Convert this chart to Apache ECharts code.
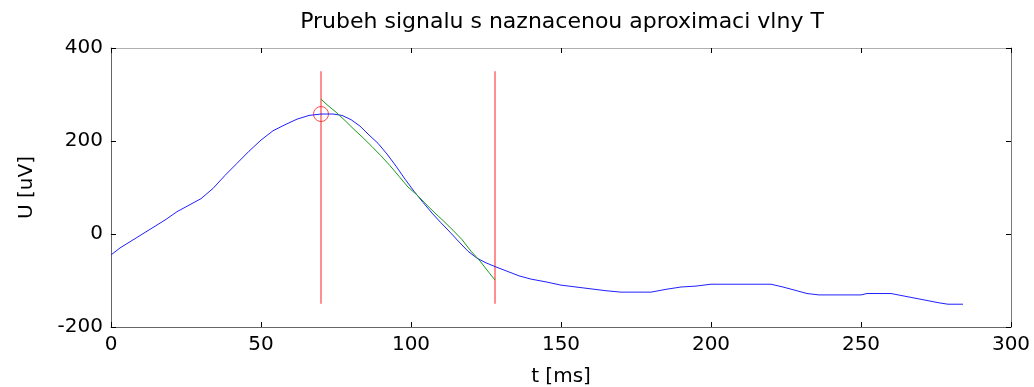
<!DOCTYPE html>
<html>
<head>
<meta charset="utf-8">
<script src="https://cdn.jsdelivr.net/npm/echarts@6/dist/echarts.min.js"></script>
<style>html,body{margin:0;padding:0;background:#fff}#c{width:1034px;height:387px}</style>
</head>
<body>
<div id="c"></div>
<script>
// Signal (blue)
const signalT = [0,3,6,10,14,18,22,26,30,34,38,42,46,50,54,58,62,66,70,74,77,80,83,86,89,92,95,98,101,104,107,110,113,116,119,122,125,128,132,136,140,145,150,155,160,165,170,180,185,190,195,200,210,220,224,228,232,236,250,252,260,264,268,272,276,279,284];
const signalU = [-45,-30,-18,-2,14,30,48,62,76,98,126,152,178,202,222,235,247,255,258,258,255,246,232,213,195,172,146,118,92,68,45,24,4,-17,-37,-52,-62,-70,-80,-90,-97,-103,-110,-114,-118,-122,-125,-125,-119,-114,-112,-108,-108,-108,-114,-121,-128,-131,-131,-128,-128,-133,-138,-143,-148,-151,-151];
// T-wave approximation (green)
const approxT = [70,72,75,78,81,84,87,90,93,96,99,102,105,108,111,114,117,120,123,126,128];
const approxU = [290,278,262,244,225,207,188,168,147,124,101,84,64,45,27,8,-12,-37,-58,-83,-99];
// Red vertical markers
const markerT = [70,128];
const markerRange = [-150,350];
// Peak circle
const peakPoint = [70,258];
// Axes
const xTicks = {min:0,max:300,interval:50};
const yTicks = {min:-200,max:400,interval:200};

const zip = (a,b)=>a.map((v,i)=>[v,b[i]]);
const font = 'DejaVu Sans';
const chart = echarts.init(document.getElementById('c'));
const axisCommon = {
  type:'value', splitLine:{show:false},
  axisTick:{inside:true,length:5,lineStyle:{color:'#000',width:1}},
};
chart.setOption({
  animation:false,
  backgroundColor:'#fff',
  title:{text:'Prubeh signalu s naznacenou aproximaci vlny T',left:557,textAlign:'center',top:6,
    textStyle:{fontFamily:font,fontSize:22,fontWeight:'normal',color:'#000'}},
  grid:{left:111,right:23,top:48,bottom:60,containLabel:false,outerBoundsMode:'none'},
  xAxis:[
    Object.assign({},axisCommon,xTicks,{position:'bottom',
      axisLine:{onZero:false,lineStyle:{color:'#666',width:1}},
      axisLabel:{fontFamily:font,fontSize:20,color:'#000',margin:8},
      name:'t [ms]',nameLocation:'middle',nameGap:40,
      nameTextStyle:{fontFamily:font,fontSize:20,color:'#000'}}),
    Object.assign({},axisCommon,xTicks,{position:'top',
      axisLine:{onZero:false,lineStyle:{color:'#b0b0b0',width:1}},axisLabel:{show:false}})
  ],
  yAxis:[
    Object.assign({},axisCommon,yTicks,{position:'left',
      axisLine:{onZero:false,lineStyle:{color:'#666',width:1}},
      axisLabel:{fontFamily:font,fontSize:20,color:'#000',margin:8},
      name:'U [uV]',nameLocation:'middle',nameGap:74,
      nameTextStyle:{fontFamily:font,fontSize:20,color:'#000'}}),
    Object.assign({},axisCommon,yTicks,{position:'right',
      axisLine:{onZero:false,lineStyle:{color:'#777',width:1}},axisLabel:{show:false}})
  ],
  series:[
    ...markerT.map(t=>({type:'line',symbol:'none',silent:true,
      data:markerRange.map(u=>[t,u]),lineStyle:{color:'#ff2020',width:1}})),
    {type:'line',symbol:'none',data:zip(signalT,signalU),lineStyle:{color:'#2020ff',width:1}},
    {type:'line',symbol:'none',data:zip(approxT,approxU),lineStyle:{color:'#1a9a1a',width:1}},
    {type:'scatter',data:[peakPoint],symbol:'circle',symbolSize:15,
      itemStyle:{color:'rgba(0,0,0,0)',borderColor:'#ff2020',borderWidth:1}}
  ]
});
</script>
</body>
</html>
